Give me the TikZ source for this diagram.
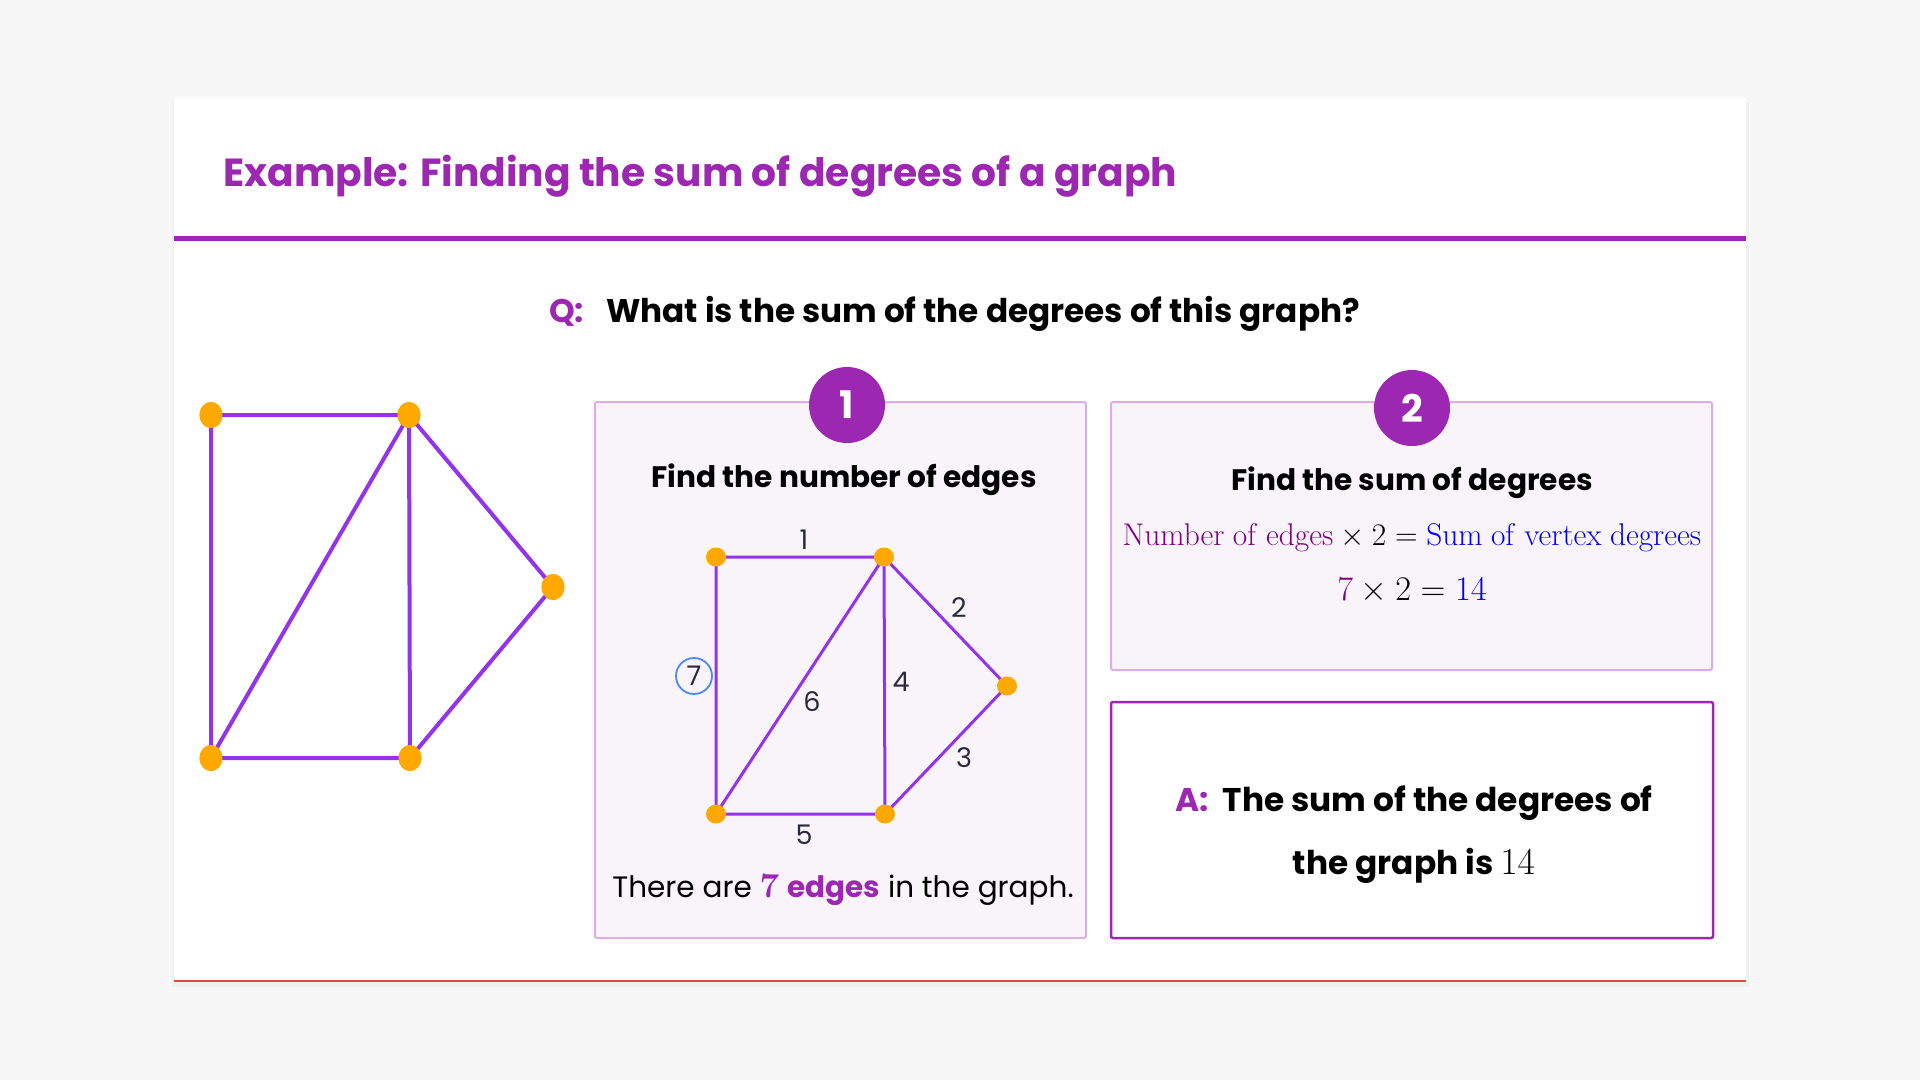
\RequirePackage{fix-cm}
\documentclass[tikz,border=0pt]{standalone}
\usepackage[no-math]{fontspec}
\setmainfont{Poppins}
\usetikzlibrary{shapes.geometric}
\definecolor{bgcol}{HTML}{F7F7F7}
\definecolor{titlecol}{HTML}{9C27B0}
\definecolor{edgecol}{HTML}{9333EA}
\definecolor{vertcol}{HTML}{FFA800}
\definecolor{panelfill}{HTML}{F8F4FA}
\definecolor{panelline}{HTML}{DCAEE6}
\definecolor{numcol}{HTML}{2A2A3A}
\definecolor{ringcol}{HTML}{4A8AF4}
\definecolor{mathpurple}{HTML}{800080}
\definecolor{mathblue}{HTML}{0000FF}
\definecolor{footcol}{HTML}{E0483E}

\begin{document}
\begin{tikzpicture}[x=1pt,y=-1pt,
  gedge/.style={draw=edgecol,line width=4pt},
  sedge/.style={draw=edgecol,line width=3pt},
  vert/.style={ellipse,fill=vertcol,minimum width=23pt,minimum height=26pt,inner sep=0pt},
  svert/.style={vert,minimum width=20pt,minimum height=19pt},
  panel/.style={draw=panelline,line width=2pt,fill=panelfill,rounded corners=2pt},
  stepnum/.style={circle,fill=titlecol,minimum size=76pt,inner sep=0pt,text=white,font=\fontsize{38}{40}\selectfont\bfseries},
  elabel/.style={text=numcol,inner sep=0pt,font=\fontsize{27}{30}\selectfont},
  heading/.style={anchor=base,inner sep=0pt,font=\fontsize{29.6}{34}\selectfont\bfseries}]
			\useasboundingbox (0,0) rectangle (1920,1080);
			\fill[bgcol] (0,0) rectangle (1920,1080);
			% card
			\fill[black!6] (172,102) rectangle (1749,987);
			\fill[white] (174,98) rectangle (1746,981);
			\draw[footcol,line width=1.5pt] (174,981) -- (1746,981);
			\node[anchor=base west,inner sep=0pt,text=titlecol,font=\fontsize{39.2}{44}\selectfont\bfseries] (title) at (223,186) {Example: Finding the sum of degrees of a graph};
			\fill[titlecol] (174,235.5) rectangle (1746,240.5);
			\node[anchor=base west,inner sep=0pt,text=titlecol,font=\fontsize{32.7}{38}\selectfont\bfseries] (qmark) at (549,322) {Q:};
			\node[anchor=base west,inner sep=0pt,font=\fontsize{32.7}{38}\selectfont\bfseries] (question) at (606,322) {What is the sum of the degrees of this graph?};
			% left graph
			\node[vert] (p1) at (211,415) {};
			\node[vert] (p2) at (409,415) {};
			\node[vert] (p3) at (553,587) {};
			\node[vert] (p4) at (211,758) {};
			\node[vert] (p5) at (410,758) {};
			\draw[gedge] (p1.center) -- (p2.center) -- (p3.center) -- (p5.center) -- (p4.center) -- (p1.center);
			\draw[gedge] (p2.center) -- (p5.center);
			\draw[gedge] (p2.center) -- (p4.center);
			\foreach \v in {p1,p2,p3,p4,p5} \node[vert] at (\v) {};
			% step 1
			\draw[panel] (595,402) rectangle (1086,938);
			\node[stepnum] (one) at (847,405) {1};
			\node[heading] (find1) at (844,487) {Find the number of edges};
			\coordinate (s1) at (716,557);
			\coordinate (s2) at (884,557);
			\coordinate (s3) at (1007,686);
			\coordinate (s4) at (716,814);
			\coordinate (s5) at (885,814);
			\draw[sedge] (s1) -- (s2) -- (s3) -- (s5) -- (s4) -- (s1);
			\draw[sedge] (s2) -- (s5);
			\draw[sedge] (s2) -- (s4);
			\foreach \v in {s1,s2,s3,s4,s5} \node[svert] at (\v) {};
			\node[elabel] (e1) at (804,540) {1};
			\node[elabel] (e2) at (959,608) {2};
			\node[elabel] (e3) at (964,758) {3};
			\node[elabel] (e4) at (901,682) {4};
			\node[elabel] (e5) at (804,835) {5};
			\node[elabel] (e6) at (812,702) {6};
			\node[elabel] (e7) at (694,676) {7};
			\draw[ringcol,line width=1.8pt] (e7) circle (18);
			\node[anchor=base,inner sep=0pt,font=\fontsize{29.5}{34}\selectfont] (count) at (843,897) {There are {\color{titlecol}{\fontsize{35}{38}\selectfont$\mathbf{7}$} \bfseries edges} in the graph.};
			% step 2
			\draw[panel] (1111,402) rectangle (1712,670);
			\node[stepnum] (two) at (1412,408) {2};
			\node[heading] (find2) at (1412,490) {Find the sum of degrees};
			\node[anchor=base,inner sep=0pt,font=\fontsize{31.4}{36}\selectfont] (rule) at (1412,545) {$\textcolor{mathpurple}{\mathrm{Number\ of\ edges}}\times 2=\textcolor{mathblue}{\mathrm{Sum\ of\ vertex\ degrees}}$};
			\node[anchor=base,inner sep=0pt,font=\fontsize{34.5}{38}\selectfont] (calc) at (1412,600) {$\textcolor{mathpurple}{7}\times 2=\textcolor{mathblue}{14}$};
			% answer
			\draw[titlecol,line width=2.5pt,rounded corners=2pt] (1111,702) rectangle (1713,938);
			\node[anchor=base,inner sep=0pt,font=\fontsize{32.8}{38}\selectfont\bfseries] (ans1) at (1414,811) {{\color{titlecol}A:}\ \ The sum of the degrees of};
			\node[anchor=base,inner sep=0pt,font=\fontsize{32.8}{38}\selectfont\bfseries] (ans2) at (1414,874) {the graph is {\fontsize{38}{40}\selectfont$14$}};
		\end{tikzpicture}
\end{document}
